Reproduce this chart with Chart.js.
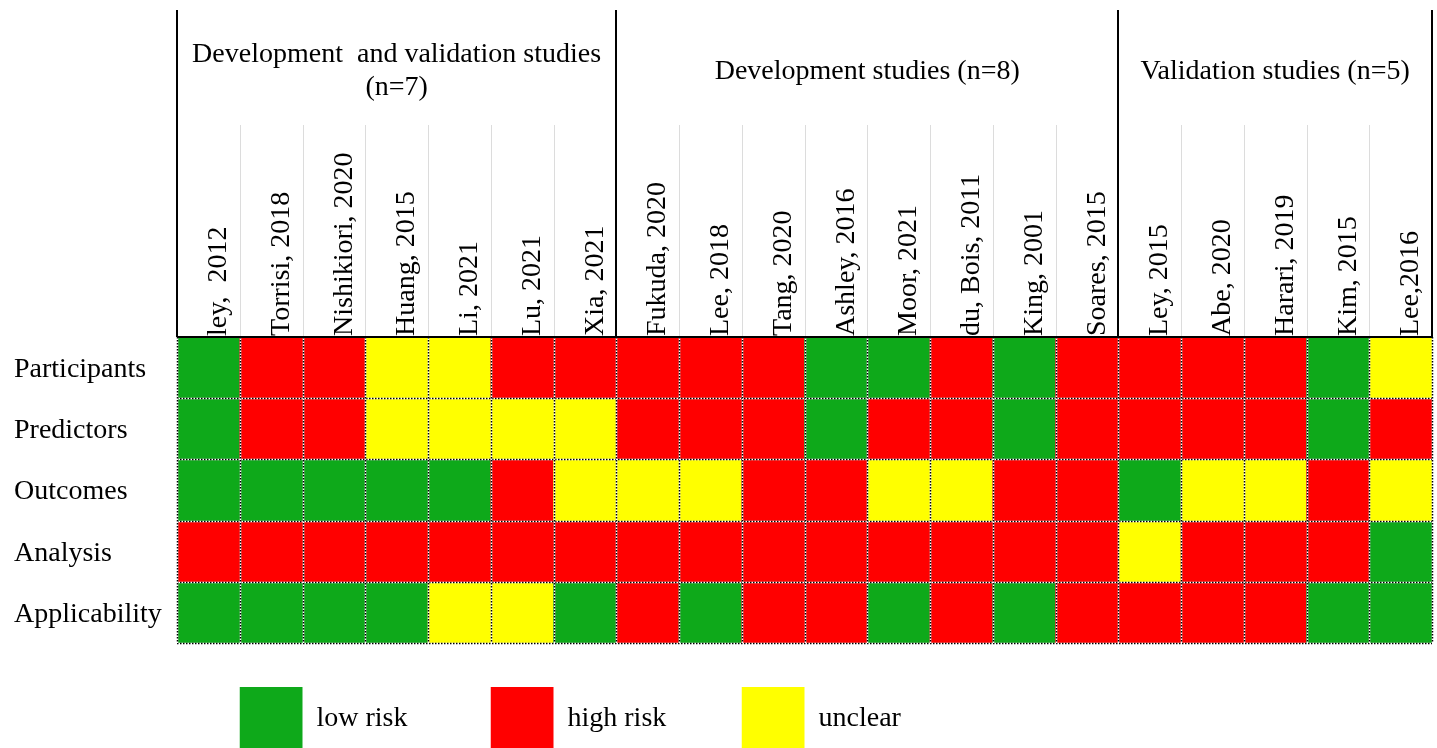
<!DOCTYPE html>
<html>
<head>
<meta charset="utf-8">
<script src="https://cdn.jsdelivr.net/npm/chart.js@4/dist/chart.umd.min.js"></script>
<style>
body { margin: 0; background: #fff; }
#wrap { width: 1437px; height: 748px; }
</style>
</head>
<body>
<div id="wrap"><canvas id="rob" width="1437" height="748"></canvas></div>
<script>
var studies = ['ley,  2012', 'Torrisi, 2018', 'Nishikiori, 2020', 'Huang, 2015', 'Li, 2021', 'Lu, 2021', 'Xia, 2021',
	'Fukuda, 2020', 'Lee, 2018', 'Tang, 2020', 'Ashley, 2016', 'Moor, 2021', 'du, Bois, 2011', 'King, 2001', 'Soares, 2015',
	'Ley, 2015', 'Abe, 2020', 'Harari, 2019', 'Kim, 2015', 'Lee,2016'];
var domains = ['Participants', 'Predictors', 'Outcomes', 'Analysis', 'Applicability'];

// L = low risk, H = high risk, U = unclear
var participants  = ['L','H','H','U','U','H','H', 'H','H','H','L','L','H','L','H', 'H','H','H','L','U'];
var predictors    = ['L','H','H','U','U','U','U', 'H','H','H','L','H','H','L','H', 'H','H','H','L','H'];
var outcomes      = ['L','L','L','L','L','H','U', 'U','U','H','H','U','U','H','H', 'L','U','U','H','U'];
var analysis      = ['H','H','H','H','H','H','H', 'H','H','H','H','H','H','H','H', 'U','H','H','H','L'];
var applicability = ['L','L','L','L','U','U','L', 'H','L','H','H','L','H','L','H', 'H','H','H','L','L'];

var groupTitles = [['Development  and validation studies', '(n=7)'], ['Development studies (n=8)'], ['Validation studies (n=5)']];
var groupSizes = [7, 8, 5];

var riskKeys = ['L', 'H', 'U'];
var riskLabels = ['low risk', 'high risk', 'unclear'];
var riskColors = { L: '#0ea91a', H: '#ff0000', U: '#ffff00' };

var ratings = [participants, predictors, outcomes, analysis, applicability];
var FONT = 'Liberation Serif';

var datasets = domains.map(function(d, i) {
	return {
		label: d,
		data: studies.map(function() { return 1; }),
		backgroundColor: ratings[i].map(function(r) { return riskColors[r]; }),
		borderWidth: 0,
		barPercentage: 1,
		categoryPercentage: 1,
		stack: 'rob'
	};
});

var tablePlugin = {
	id: 'tablePlugin',
	afterDraw: function(chart) {
		var ctx = chart.ctx;
		var a = chart.chartArea;
		var n = studies.length;
		var colW = (a.right - a.left) / n;
		var yS = chart.scales.y;
		ctx.save();

		// dotted cell borders
		function dotted(x1, y1, x2, y2) {
			ctx.lineWidth = 1.5;
			ctx.setLineDash([]);
			ctx.strokeStyle = '#fff';
			ctx.beginPath(); ctx.moveTo(x1, y1); ctx.lineTo(x2, y2); ctx.stroke();
			ctx.setLineDash([1.5, 1.5]);
			ctx.strokeStyle = '#000';
			ctx.beginPath(); ctx.moveTo(x1, y1); ctx.lineTo(x2, y2); ctx.stroke();
		}
		for (var r = 1; r <= domains.length; r++) {
			var yy = Math.round(yS.getPixelForValue(r)) + 0.5;
			dotted(a.left, yy, a.right, yy);
		}
		for (var k = 0; k <= n; k++) {
			var xx = Math.round(a.left + k * colW) + 0.5;
			dotted(xx, a.top, xx, a.bottom);
		}
		ctx.setLineDash([]);

		// light separators between study names
		ctx.strokeStyle = '#dcdcdc';
		ctx.lineWidth = 1;
		for (k = 1; k < n; k++) {
			xx = Math.round(a.left + k * colW) + 0.5;
			ctx.beginPath(); ctx.moveTo(xx, 125); ctx.lineTo(xx, a.top); ctx.stroke();
		}

		// group frame
		ctx.strokeStyle = '#000';
		ctx.lineWidth = 2;
		ctx.beginPath(); ctx.moveTo(a.left, a.top); ctx.lineTo(a.right, a.top); ctx.stroke();
		var start = 0;
		var bounds = [0];
		groupSizes.forEach(function(s) { start += s; bounds.push(start); });
		bounds.forEach(function(b) {
			var x = Math.round(a.left + b * colW);
			ctx.beginPath(); ctx.moveTo(x, 10); ctx.lineTo(x, a.top); ctx.stroke();
		});

		// group titles
		ctx.fillStyle = '#000';
		ctx.font = '28px "' + FONT + '"';
		ctx.textAlign = 'center';
		ctx.textBaseline = 'middle';
		groupTitles.forEach(function(lines, g) {
			var cx = a.left + (bounds[g] + bounds[g + 1]) / 2 * colW;
			var y0 = lines.length > 1 ? 55 : 72;
			lines.forEach(function(t, li) {
				ctx.fillText(t, cx, y0 + li * 33);
			});
		});

		// legend, boxes aligned with table columns
		var legendCols = [1, 5, 9];
		ctx.textAlign = 'left';
		riskKeys.forEach(function(key, i) {
			var bx = a.left + legendCols[i] * colW;
			ctx.fillStyle = riskColors[key];
			ctx.fillRect(bx, a.bottom + 44, colW, 61);
			ctx.fillStyle = '#000';
			ctx.fillText(riskLabels[i], bx + colW + 14, a.bottom + 76);
		});
		ctx.restore();
	}
};

var ctxR = document.getElementById('rob').getContext('2d');
var robChart = new Chart(ctxR, {
	type: 'bar',
	data: { labels: studies, datasets: datasets },
	options: {
		responsive: false,
		animation: false,
		layout: { padding: { left: 14, right: 5, top: 0, bottom: 105 } },
		plugins: { legend: { display: false }, tooltip: { enabled: false } },
		scales: {
			x: {
				type: 'category',
				position: 'top',
				stacked: true,
				grid: { display: false },
				border: { display: false },
				ticks: {
					autoSkip: false,
					minRotation: 90,
					maxRotation: 90,
					padding: -7,
					labelOffset: 44,
					color: '#000',
					font: { family: FONT, size: 28 }
				},
				afterFit: function(scale) { scale.height = 337; }
			},
			y: {
				type: 'linear',
				min: 0,
				max: 5,
				reverse: true,
				stacked: true,
				grid: { display: false },
				border: { display: false },
				afterBuildTicks: function(scale) {
					scale.ticks = domains.map(function(d, i) { return { value: i + 0.5 }; });
				},
				ticks: {
					crossAlign: 'far',
					labelOffset: 2,
					color: '#000',
					font: { family: FONT, size: 28 },
					callback: function(v) { return domains[Math.floor(v)]; }
				},
				afterFit: function(scale) { scale.width = 163; }
			}
		}
	},
	plugins: [tablePlugin]
});
</script>
</body>
</html>
